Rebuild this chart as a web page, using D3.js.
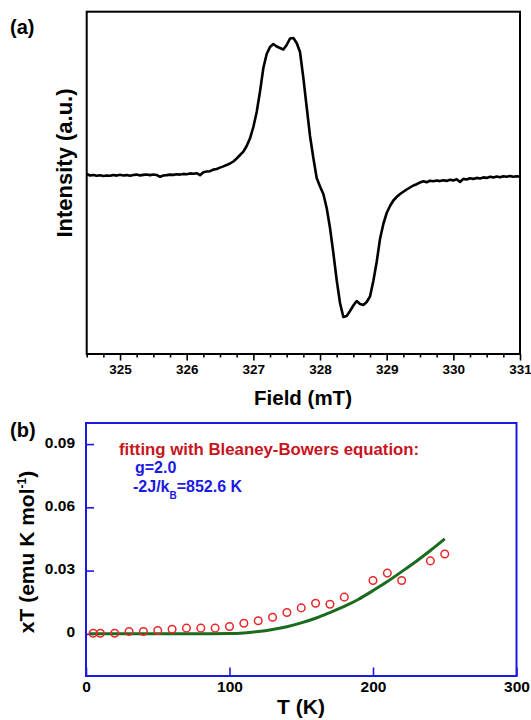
<!DOCTYPE html>
<html>
<head>
<meta charset="utf-8">
<script src="https://cdn.jsdelivr.net/npm/d3@7"></script>
<style>
  body { margin: 0; background: #fff; }
  svg { font-family: "Liberation Sans", Arial, sans-serif; }
</style>
</head>
<body>
<div id="chart"></div>
<script>
// (a) EPR spectrum
const field = [
  324.50, 324.55, 324.60, 324.65, 324.70, 324.75, 324.80, 324.85, 324.90, 324.95,
  325.00, 325.05, 325.10, 325.15, 325.20, 325.25, 325.30, 325.35, 325.40, 325.45,
  325.50, 325.55, 325.60, 325.65, 325.70, 325.75, 325.80, 325.85, 325.90, 325.95,
  326.00, 326.05, 326.10, 326.15, 326.20, 326.25, 326.30, 326.35, 326.40, 326.45,
  326.50, 326.55, 326.60, 326.65, 326.70, 326.75, 326.80, 326.85, 326.90, 326.95,
  327.00, 327.05, 327.10, 327.15, 327.20, 327.25, 327.30, 327.35, 327.40, 327.45,
  327.50, 327.55, 327.60, 327.65, 327.70, 327.75, 327.80, 327.85, 327.90, 327.95,
  328.00, 328.05, 328.10, 328.15, 328.20, 328.25, 328.30, 328.35, 328.40, 328.45,
  328.50, 328.55, 328.60, 328.65, 328.70, 328.75, 328.80, 328.85, 328.90, 328.95,
  329.00, 329.05, 329.10, 329.15, 329.20, 329.25, 329.30, 329.35, 329.40, 329.45,
  329.50, 329.55, 329.60, 329.65, 329.70, 329.75, 329.80, 329.85, 329.90, 329.95,
  330.00, 330.05, 330.10, 330.15, 330.20, 330.25, 330.30, 330.35, 330.40, 330.45,
  330.50, 330.55, 330.60, 330.65, 330.70, 330.75, 330.80, 330.85, 330.90, 330.95,
  331.00
];
const intensity = [
  1.0, -0.5, 0, -0.8, -0.3, -1.0, -0.5, -0.8, 0, -0.6,
  0.2, -0.5, -0.1, -0.8, 0, 0.4, -0.4, 0.1, 0.5, -0.1,
  0.5, 0, -1.8, -0.5, -0.1, 0.4, 0.1, 0.7, 0.4, 1.1,
  0.8, 1.6, 1.3, 1.8, -0.2, 2.7, 3.5, 3.8, 5.4, 6.0,
  7.4, 8.6, 10.0, 11.5, 13.5, 16.5, 20, 23.3, 29, 36.7,
  48, 63, 83.5, 107, 121, 128, 131, 128.5, 127, 125.5,
  130, 136.5, 137, 132, 123, 97, 68, 39, 17, -3,
  -11.5, -19, -33, -53, -78, -105, -128, -142, -141, -136,
  -130.5, -126, -129, -130, -127, -121.5, -106, -87, -64, -49,
  -38, -31, -25.5, -22, -19, -16.7, -14.5, -12.5, -10.5, -9.2,
  -7.5, -6.3, -7.2, -5.8, -6.3, -5.5, -6.1, -5.3, -5.9, -4.8,
  -5.4, -4.3, -7, -3.9, -4.5, -3.3, -3.9, -2.9, -3.5, -2.4,
  -2.9, -1.8, -2.4, -1.5, -2.2, -1.2, -1.8, -1.0, -1.7, -1.3,
  -1.6
];
const fieldTicks = [325, 326, 327, 328, 329, 330, 331];
const fieldMinor = [324.5, 324.75, 325.25, 325.5, 325.75, 326.25, 326.5, 326.75,
  327.25, 327.5, 327.75, 328.25, 328.5, 328.75, 329.25, 329.5, 329.75,
  330.25, 330.5, 330.75];

// (b) magnetic data
const tempData = [5, 10, 20, 30, 40, 50, 60, 70, 80, 90, 100, 110, 120, 130, 140, 150,
  160, 170, 180, 200, 210, 220, 240, 250];
const xtData = [0.0003, 0.0003, 0.0003, 0.0011, 0.0011, 0.0016, 0.0022, 0.0027, 0.0027,
  0.0027, 0.0035, 0.0050, 0.0062, 0.0079, 0.0101, 0.0123, 0.0145, 0.0140, 0.0174,
  0.0253, 0.0288, 0.0253, 0.0346, 0.0379];
const fitT = [2, 20, 40, 60, 80, 100, 110, 120, 130, 140, 150, 160, 170, 180, 190,
  200, 210, 220, 230, 240, 250];
const fitXT = [0, 0, 0, 0, 0, 0.0001, 0.0004, 0.0011, 0.0021, 0.0034, 0.0052, 0.0074,
  0.0101, 0.0130, 0.0164, 0.0205, 0.0248, 0.0295, 0.0343, 0.0395, 0.0450];
const tTicks = [0, 100, 200, 300];
const xtTicks = [0, 0.03, 0.06, 0.09];

const W = 531, H = 720;
const svg = d3.select("#chart").append("svg")
  .attr("width", W)
  .attr("height", H);

// ---------- panel (a) ----------
const xA = d3.scaleLinear().domain([324.5, 331]).range([86.7, 520]);
const yA = d3.scaleLinear().domain([-179, 163.3]).range([354, 11.7]);

const gA = svg.append("g");

gA.append("g")
  .attr("transform", "translate(0,354)")
  .call(d3.axisBottom(xA).tickValues(fieldMinor).tickSize(3.5).tickFormat(""))
  .call(g => g.select(".domain").remove())
  .call(g => g.selectAll("line").attr("stroke", "#000").attr("stroke-width", 1.6));

gA.append("g")
  .attr("transform", "translate(0,354)")
  .call(d3.axisBottom(xA).tickValues(fieldTicks).tickSize(6.5).tickPadding(4).tickFormat(d3.format("d")))
  .call(g => g.select(".domain").remove())
  .call(g => g.selectAll("line").attr("stroke", "#000").attr("stroke-width", 1.6))
  .call(g => g.selectAll("text")
    .attr("fill", "#000")
    .style("font-size", "13.5px")
    .style("font-weight", "bold"));

gA.append("rect")
  .attr("x", xA(324.5)).attr("y", yA(163.3))
  .attr("width", xA(331) - xA(324.5))
  .attr("height", yA(-179) - yA(163.3))
  .attr("fill", "none")
  .attr("stroke", "#000")
  .attr("stroke-width", 2);

gA.append("path")
  .datum(field.map((f, i) => [f, intensity[i]]))
  .attr("fill", "none")
  .attr("stroke", "#000")
  .attr("stroke-width", 2.6)
  .attr("stroke-linejoin", "round")
  .attr("d", d3.line().x(d => xA(d[0])).y(d => yA(d[1])));

gA.append("text")
  .attr("transform", "translate(72,163) rotate(-90)")
  .attr("text-anchor", "middle")
  .style("font-size", "22px")
  .style("font-weight", "bold")
  .text("Intensity (a.u.)");

gA.append("text")
  .attr("x", 303).attr("y", 405)
  .attr("text-anchor", "middle")
  .style("font-size", "20.5px")
  .style("font-weight", "bold")
  .text("Field (mT)");

gA.append("text")
  .attr("x", 10).attr("y", 34)
  .style("font-size", "20px")
  .style("font-weight", "bold")
  .text("(a)");

// ---------- panel (b) ----------
const xB = d3.scaleLinear().domain([0, 300]).range([86, 516.5]);
const yB = d3.scaleLinear().domain([-0.02, 0.1]).range([676, 423]);
const blue = "#1a1ae0";

const gB = svg.append("g");

gB.append("g")
  .attr("transform", "translate(86,0)")
  .call(d3.axisLeft(yB).tickValues(xtTicks).tickSize(-8).tickPadding(11)
    .tickFormat(d => d === 0 ? "0" : d.toFixed(2)))
  .call(g => g.select(".domain").remove())
  .call(g => g.selectAll("line").attr("stroke", blue).attr("stroke-width", 1.6))
  .call(g => g.selectAll("text")
    .attr("fill", "#000")
    .attr("dy", "0.2em")
    .style("font-size", "15.5px")
    .style("font-weight", "bold"));

gB.append("g")
  .attr("transform", "translate(0,676)")
  .call(d3.axisBottom(xB).tickValues(tTicks).tickSize(-8.5).tickPadding(4.5))
  .call(g => g.select(".domain").remove())
  .call(g => g.selectAll("line").attr("stroke", blue).attr("stroke-width", 1.6))
  .call(g => g.selectAll("text")
    .attr("fill", "#000")
    .style("font-size", "15.5px")
    .style("font-weight", "bold"));

gB.append("rect")
  .attr("x", xB(0)).attr("y", yB(0.1))
  .attr("width", xB(300) - xB(0))
  .attr("height", yB(-0.02) - yB(0.1))
  .attr("fill", "none")
  .attr("stroke", blue)
  .attr("stroke-width", 2);

gB.append("path")
  .datum(fitT.map((t, i) => [t, fitXT[i]]))
  .attr("fill", "none")
  .attr("stroke", "#1b6b1f")
  .attr("stroke-width", 3)
  .attr("d", d3.line().curve(d3.curveMonotoneX).x(d => xB(d[0])).y(d => yB(d[1])));

gB.selectAll("circle.pt")
  .data(tempData.map((t, i) => [t, xtData[i]]))
  .enter()
  .append("circle")
  .attr("class", "pt")
  .attr("cx", d => xB(d[0]))
  .attr("cy", d => yB(d[1]))
  .attr("r", 3.8)
  .attr("fill", "none")
  .attr("stroke", "#e8262a")
  .attr("stroke-width", 1.5);

gB.append("text")
  .attr("x", 119).attr("y", 455)
  .attr("fill", "#c8141e")
  .style("font-size", "16.8px")
  .style("font-weight", "bold")
  .text("fitting with Bleaney-Bowers equation:");

gB.append("text")
  .attr("x", 135).attr("y", 473)
  .attr("fill", blue)
  .style("font-size", "16px")
  .style("font-weight", "bold")
  .text("g=2.0");

const jt = gB.append("text")
  .attr("x", 133).attr("y", 492)
  .attr("fill", blue)
  .style("font-size", "16px")
  .style("font-weight", "bold");
jt.append("tspan").text("-2J/k");
jt.append("tspan").attr("dy", 7).style("font-size", "10px").text("B");
jt.append("tspan").attr("dy", -7).text("=852.6 K");

const yl = gB.append("text")
  .attr("transform", "translate(34,552) rotate(-90)")
  .attr("text-anchor", "middle")
  .style("font-size", "21px")
  .style("font-weight", "bold");
yl.append("tspan").text("xT (emu K mol");
yl.append("tspan").attr("dy", -8).style("font-size", "12px").text("-1");
yl.append("tspan").attr("dy", 8).text(")");

gB.append("text")
  .attr("x", 301).attr("y", 714)
  .attr("text-anchor", "middle")
  .style("font-size", "21px")
  .style("font-weight", "bold")
  .text("T (K)");

gB.append("text")
  .attr("x", 10).attr("y", 437)
  .style("font-size", "20px")
  .style("font-weight", "bold")
  .text("(b)");
</script>
</body>
</html>
